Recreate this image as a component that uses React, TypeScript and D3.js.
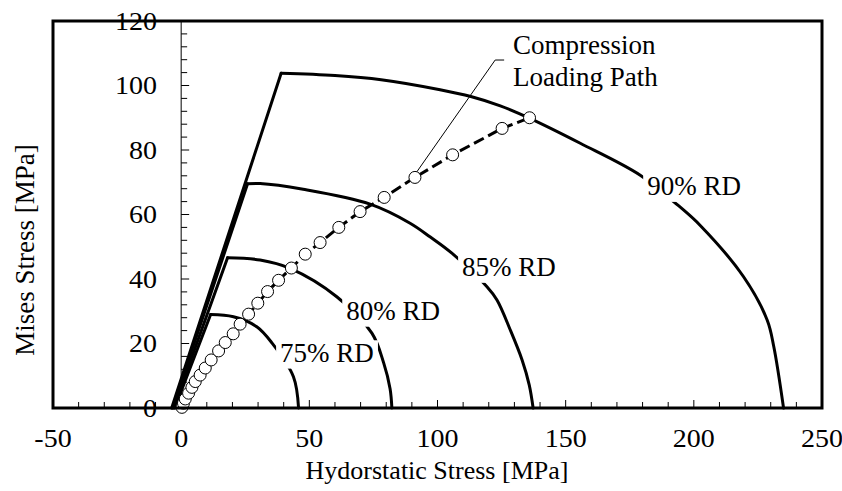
import React from 'react';
import * as d3 from 'd3';

const xTicks = [-50, 0, 50, 100, 150, 200, 250];
const yTicks = [0, 20, 40, 60, 80, 100, 120];

const rd75X = [-2.5, 11.5, 20.4, 29.5, 35.4, 43.8, 45.8];
const rd75Y = [0, 29.0, 28.3, 25.2, 20.2, 9.7, 0];

const rd80X = [-3.0, 18.1, 30.8, 42.5, 60.7, 74.4, 79.0, 81.5, 82.2];
const rd80Y = [0, 46.6, 45.9, 43.3, 34.5, 23.2, 14.0, 6.0, 0];

const rd85X = [-3.4, 25.9, 30.8, 47.6, 73.7, 89.3, 97.2, 105.6, 119.3, 123.2, 128.4, 133.0, 135.8, 137.3];
const rd85Y = [0, 69.5, 69.6, 67.8, 63.2, 57.3, 53.0, 48.0, 37.6, 33.5, 24.2, 14.9, 7.1, 0];

const rd90X = [-3.7, 39.0, 60.0, 78.0, 101.0, 113.0, 124.5, 135.8, 155.7, 179.1, 193.9, 202.5, 219.4, 228.6, 231.2, 235.0];
const rd90Y = [0, 103.8, 103.1, 101.8, 98.7, 96.6, 93.7, 89.9, 82.1, 72.2, 62.8, 56.6, 40.7, 27.3, 19.0, 0];

const loadX = [0.3, 0.9, 1.6, 2.9, 4.2, 5.5, 7.4, 9.4, 11.7, 14.6, 17.2, 20.3, 23.0, 26.3, 29.9, 33.7, 38.0, 43.0, 48.4, 54.2, 61.5, 69.8, 79.2, 91.2, 105.9, 125.2, 135.9];
const loadY = [0.2, 1.5, 2.8, 4.6, 6.4, 8.2, 10.2, 12.4, 14.9, 17.7, 20.3, 23.0, 26.0, 29.1, 32.5, 36.1, 39.6, 43.4, 47.7, 51.3, 56.0, 60.9, 65.3, 71.5, 78.5, 86.7, 90.0];

const curveLabels = ['75% RD', '80% RD', '85% RD', '90% RD'];
const annotationLines = ['Compression', 'Loading Path'];
const xTitle = 'Hydorstatic Stress [MPa]';
const yTitle = 'Mises Stress [MPa]';

const W = 842;
const H = 491;
const FONT = "'Liberation Serif', 'Times New Roman', serif";

export default function App() {
  const x = d3.scaleLinear().domain([-50, 250]).range([53, 822]);
  const y = d3.scaleLinear().domain([0, 120]).range([408, 21]);

  const straight = d3
    .line<[number, number]>()
    .x((d) => x(d[0]))
    .y((d) => y(d[1]));
  const smooth = d3
    .line<[number, number]>()
    .x((d) => x(d[0]))
    .y((d) => y(d[1]))
    .curve(d3.curveCatmullRom.alpha(0.5));

  const series = [
    rd75X.map((v, i) => [v, rd75Y[i]] as [number, number]),
    rd80X.map((v, i) => [v, rd80Y[i]] as [number, number]),
    rd85X.map((v, i) => [v, rd85Y[i]] as [number, number]),
    rd90X.map((v, i) => [v, rd90Y[i]] as [number, number]),
  ];
  const load = loadX.map((v, i) => [v, loadY[i]] as [number, number]);

  // label anchor points in data units (left, baseline)
  const labelPos: [number, number][] = [
    [38.6, 14.3],
    [64.4, 27.3],
    [109.6, 40.9],
    [181.8, 66.0],
  ];
  const fs = 27;
  const tickFs = 25;
  const sx = 1.12;

  const yMinor = d3.range(0, 121, 4);
  const xMinor = d3.range(-50, 251, 10);

  const leader: [number, number][] = [
    [92.0, 73.3],
    [122.5, 107.9],
    [126.0, 107.9],
  ];

  return (
    <svg
      width={W}
      height={H}
      style={{ position: 'absolute', left: 0, top: 0, background: '#fff' }}
      fontFamily={FONT}
    >
      <rect x={0} y={0} width={W} height={H} fill="#fff" />
      {/* y axis at x=0 */}
      <line x1={x(0)} x2={x(0)} y1={y(0)} y2={y(120)} stroke="#000" strokeWidth={1} />
      {yMinor.map((t) => (
        <line
          key={'ym' + t}
          x1={x(0)}
          x2={x(0) + (t % 20 === 0 ? 8 : 6)}
          y1={y(t)}
          y2={y(t)}
          stroke="#000"
          strokeWidth={1}
        />
      ))}
      {xMinor.map((t) => (
        <line
          key={'xm' + t}
          x1={x(t)}
          x2={x(t)}
          y1={y(0)}
          y2={y(0) - (t % 50 === 0 ? 8 : 6)}
          stroke="#000"
          strokeWidth={1}
        />
      ))}

      {/* curves: straight segment from origin to corner, smooth cap beyond */}
      {series.map((s, i) => (
        <g key={'s' + i}>
          <path d={straight(s.slice(0, 2)) || ''} fill="none" stroke="#000" strokeWidth={3} strokeLinecap="round" />
          <path d={smooth(s.slice(1)) || ''} fill="none" stroke="#000" strokeWidth={3} strokeLinecap="round" />
        </g>
      ))}

      {/* curve labels with white background */}
      {curveLabels.map((lab, i) => {
        const lx = x(labelPos[i][0]);
        const ly = y(labelPos[i][1]);
        return (
          <g key={'l' + i}>
            <rect x={lx - 4} y={ly - fs * 0.8} width={fs * 3.55 + 6} height={fs * 1.05} fill="#fff" />
            <text x={lx} y={ly} fontSize={fs} fill="#000">
              {lab}
            </text>
          </g>
        );
      })}

      {/* loading path */}
      <path d={straight(load) || ''} fill="none" stroke="#000" strokeWidth={3} strokeDasharray="11,5" />
      {load.map((p, i) => (
        <circle key={'c' + i} cx={x(p[0])} cy={y(p[1])} r={6} fill="#fff" stroke="#000" strokeWidth={1} />
      ))}

      {/* annotation */}
      <path d={straight(leader) || ''} fill="none" stroke="#000" strokeWidth={1} />
      {annotationLines.map((t, i) => (
        <text key={'a' + i} x={513} y={54 + i * 32} fontSize={fs} fill="#000">
          {t}
        </text>
      ))}

      {/* frame */}
      <rect x={x(-50)} y={y(120)} width={x(250) - x(-50)} height={y(0) - y(120)} fill="none" stroke="#000" strokeWidth={3} />

      {/* tick labels */}
      {yTicks.map((t) => (
        <g key={'yt' + t} transform={`translate(157, ${y(t)}) scale(${sx}, 1)`}>
          <text x={0} y={0} dy="0.35em" textAnchor="end" fontSize={tickFs} fill="#000">
            {t}
          </text>
        </g>
      ))}
      {xTicks.map((t) => (
        <g key={'xt' + t} transform={`translate(${x(t)}, 447) scale(${sx}, 1)`}>
          <text x={0} y={0} textAnchor="middle" fontSize={tickFs} fill="#000">
            {t}
          </text>
        </g>
      ))}

      {/* titles */}
      <text x={437} y={479} textAnchor="middle" fontSize={26} fill="#000">
        {xTitle}
      </text>
      <text transform={`translate(34, 250) rotate(-90)`} textAnchor="middle" fontSize={27} fill="#000">
        {yTitle}
      </text>
    </svg>
  );
}
